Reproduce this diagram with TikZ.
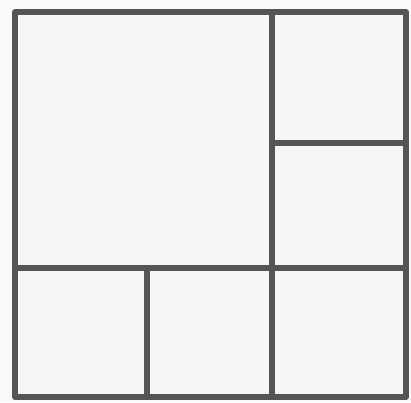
\documentclass[tikz,border=0pt]{standalone}
\usepackage{tikz}
\usetikzlibrary{calc}
\usepackage{xcolor}
\definecolor{penGray}{HTML}{555555}
\definecolor{paperGray}{HTML}{F6F6F6}

\begin{document}
\begin{tikzpicture}[
    x=0.02cm, y=-0.02cm,
    cell/.style={draw=penGray, fill=paperGray, line width=0.12cm, line join=round, line cap=round}
  ]
    \useasboundingbox[fill=paperGray!60!white] (0,0) rectangle (411,402);
    % big square and the small ones around it
    \draw[cell] (15,12) rectangle (272,268);
    \draw[cell] (272,12) rectangle (406,143);
    \draw[cell] (272,143) rectangle (406,268);
    \draw[cell] (15,268) rectangle (147,397);
    \draw[cell] (147,268) rectangle (272,397);
    \draw[cell] (272,268) rectangle (406,397);
  \end{tikzpicture}
\end{document}
